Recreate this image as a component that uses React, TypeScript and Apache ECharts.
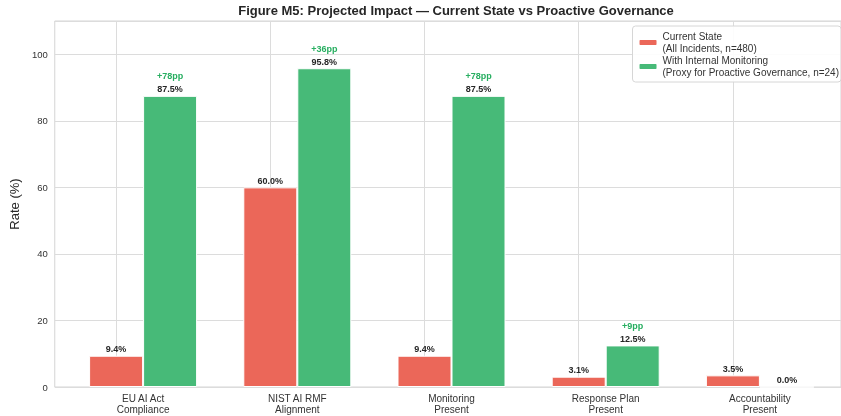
import React, { useEffect, useRef } from "react";
import * as echarts from "echarts";

const categories = [
  "EU AI Act\nCompliance",
  "NIST AI RMF\nAlignment",
  "Monitoring\nPresent",
  "Response Plan\nPresent",
  "Accountability\nPresent",
];
const currentState = [9.4, 60.0, 9.4, 3.1, 3.5];
const withMonitoring = [87.5, 95.8, 87.5, 12.5, 0.0];
const seriesNames = [
  "Current State\n(All Incidents, n=480)",
  "With Internal Monitoring\n(Proxy for Proactive Governance, n=24)",
];
const yTicks = { min: 0, max: 110, interval: 20 };
const titleText = "Figure M5: Projected Impact \u2014 Current State vs Proactive Governance";

const RED = "#EB6759";
const GREEN = "#47BA78";
const DELTA_GREEN = "#27ae60";
const FONT = "Liberation Sans, Arial, sans-serif";

export default function App() {
  const ref = useRef<HTMLDivElement>(null);
  useEffect(() => {
    if (!ref.current) return;
    const chart = echarts.init(ref.current, undefined, { renderer: "svg" });
    const top = 21;
    const bottom = 29;
    chart.setOption({
      animation: false,
      textStyle: { fontFamily: FONT },
      title: {
        text: titleText,
        left: 451,
        textAlign: "center",
        top: -1,
        textStyle: { fontSize: 13, fontWeight: "bold", color: "#262626", fontFamily: FONT },
      },
      legend: {
        orient: "vertical",
        right: 0,
        top: 26,
        itemWidth: 19,
        itemHeight: 7,
        itemGap: 1,
        padding: [5, 2, 4, 5],
        backgroundColor: "rgba(255,255,255,0.9)",
        borderColor: "#d6d6d6",
        borderWidth: 1,
        borderRadius: 3,
        textStyle: { fontSize: 10, color: "#333", lineHeight: 11.5, fontFamily: FONT },
        data: seriesNames,
      },
      grid: [
        { left: 66, width: 771, top, bottom, show: false },
        { left: 53, right: -10, top, bottom, show: true, borderColor: "#d4d4d4", borderWidth: 1, z: 0 },
      ],
      xAxis: [
        {
          type: "category",
          gridIndex: 0,
          data: categories,
          axisLine: { show: false },
          axisTick: { show: false },
          splitLine: { show: false },
          axisLabel: { fontSize: 10, color: "#333", lineHeight: 11, margin: 6, interval: 0, fontFamily: FONT },
        },
        {
          type: "value",
          gridIndex: 1,
          show: false,
        },
      ],
      yAxis: [
        {
          type: "value",
          gridIndex: 0,
          min: yTicks.min,
          max: yTicks.max,
          show: false,
          splitLine: { show: false },
        },
        {
          type: "value",
          gridIndex: 1,
          min: yTicks.min,
          max: yTicks.max,
          interval: yTicks.interval,
          name: "Rate (%)",
          nameLocation: "middle",
          nameGap: 25,
          nameTextStyle: { fontSize: 13, color: "#262626", fontFamily: FONT },
          axisLine: { show: false },
          axisTick: { show: false },
          axisLabel: {
            fontSize: 9.5,
            color: "#333",
            margin: 7,
            fontFamily: FONT,
            formatter: (v: number) => (v > 100 ? "" : String(v)),
          },
          splitLine: { show: true, lineStyle: { color: "#dcdcdc", width: 1 } },
        },
      ],
      series: [
        {
          name: seriesNames[0],
          type: "bar",
          xAxisIndex: 0,
          yAxisIndex: 0,
          data: currentState,
          barWidth: 54,
          barGap: "0%",
          itemStyle: { color: RED, borderColor: "#fff", borderWidth: 1 },
          label: {
            show: true,
            position: "top",
            distance: 2,
            fontSize: 9,
            fontWeight: "bold",
            color: "#262626",
            fontFamily: FONT,
            formatter: (p: any) => `${p.value.toFixed(1)}%`,
          },
          markLine: {
            silent: true,
            symbol: "none",
            z: 1,
            label: { show: false },
            lineStyle: { color: "#dcdcdc", width: 1, type: "solid" },
            data: categories.map((c) => ({ xAxis: c })),
          },
          z: 3,
        },
        {
          name: seriesNames[1],
          type: "bar",
          xAxisIndex: 0,
          yAxisIndex: 0,
          data: withMonitoring,
          barWidth: 54,
          itemStyle: { color: GREEN, borderColor: "#fff", borderWidth: 1 },
          label: {
            show: true,
            position: "top",
            distance: 2,
            fontFamily: FONT,
            formatter: (p: any) => {
              const d = Math.round(withMonitoring[p.dataIndex] - currentState[p.dataIndex]);
              const v = `{v|${p.value.toFixed(1)}%}`;
              return d > 0 ? `{d|+${d}pp}\n${v}` : v;
            },
            rich: {
              v: { fontSize: 9, fontWeight: "bold", color: "#262626", lineHeight: 9, fontFamily: FONT },
              d: { fontSize: 9, fontWeight: "bold", color: DELTA_GREEN, lineHeight: 17, fontFamily: FONT },
            },
          },
          z: 3,
        },
      ],
    });
    return () => chart.dispose();
  }, []);
  return (
    <div
      ref={ref}
      style={{ position: "fixed", left: 0, top: 0, width: 841, height: 416, overflow: "hidden" }}
    />
  );
}
